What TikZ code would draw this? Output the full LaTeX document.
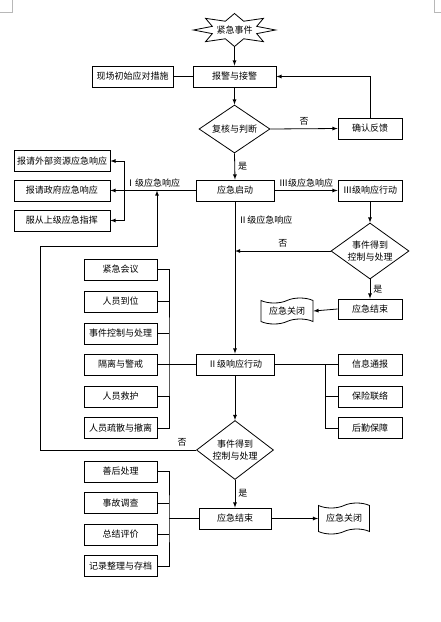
\documentclass[tikz,border=0pt]{standalone}
\usepackage{fontspec}
\setmainfont{Noto Sans CJK SC}
\usetikzlibrary{shapes.geometric}
\usetikzlibrary{shapes.symbols}
\usetikzlibrary{shadows}
\definecolor{shadowColor}{rgb}{0.55,0.55,0.55}
\definecolor{cropColor}{rgb}{0.72,0.72,0.72}

\begin{document}
\begin{tikzpicture}[x=1pt,y=-1pt,font=\fontsize{9}{12}\selectfont]

          \tikzstyle{stepBox} = [draw, rectangle, fill=white, minimum height=21pt, inner sep=0pt, line width=0.8pt, general shadow={shadow xshift=0.9pt, shadow yshift=-0.9pt, fill=shadowColor}];
          \tikzstyle{decisionNode} = [draw, diamond, aspect=1.4, fill=white, inner sep=0pt, line width=0.8pt, align=center];
          \tikzstyle{closeNode} = [draw, tape, tape bend top=in and out, tape bend bottom=in and out, tape bend height=5pt, fill=white, inner sep=0pt, line width=0.8pt];
          \tikzstyle{tagText} = [inner sep=3pt];

          \tikzstyle{normalEdge} = [line width=0.8pt];
          \tikzstyle{arrowEdge} = [line width=0.8pt, -latex];

          \useasboundingbox (0,0) rectangle (441,622);
          \draw[cropColor, line width=0.6pt] (12.3,0) -- (12.3,12.7) -- (0,12.7);
          \draw[cropColor, line width=0.6pt] (434.3,0) -- (434.3,12.7) -- (441,12.7);

          \node[inner sep=0pt, minimum width=82pt, minimum height=33pt] (event) at (234.5,30) {紧急事件};
          \draw[normalEdge, shift={(event.center)}] (0:41 and 16.5) \foreach \a in {45,90,...,360} { -- (\a-22.5:24 and 9.5) -- (\a:41 and 16.5)} -- cycle;

          \node[stepBox, minimum width=83pt] (alarm) at (234.5,76.5) {报警与接警};
          \node[stepBox, minimum width=81pt] (initial) at (132.5,76.5) {现场初始应对措施};
          \node[decisionNode, minimum width=71pt, minimum height=48pt] (verify) at (234.5,129) {复核与判断};
          \node[stepBox, minimum width=64pt] (feedback) at (370,128.5) {确认反馈};
          \node[stepBox, minimum width=78pt] (start) at (235,190.5) {应急启动};

          \node[stepBox, minimum width=96pt] (extRes) at (62,161) {报请外部资源应急响应};
          \node[stepBox, minimum width=96pt] (gov) at (62,190.5) {报请政府应急响应};
          \node[stepBox, minimum width=96pt] (superior) at (62,220.5) {服从上级应急指挥};

          \node[stepBox, minimum width=64pt] (lvThree) at (370,190.5) {Ⅲ级响应行动};
          \node[decisionNode, minimum width=78pt, minimum height=56pt] (checkA) at (370,251) {事件得到\\控制与处理};
          \node[stepBox, minimum width=64pt, minimum height=20pt] (endA) at (370,309) {应急结束};
          \node[closeNode, minimum width=52pt, minimum height=26pt] (closeA) at (287,311) {应急关闭};

          \node[stepBox, minimum width=78pt] (lvTwo) at (235,364.5) {Ⅱ级响应行动};
          \node[stepBox, minimum width=73pt] (meeting) at (120.5,269.5) {紧急会议};
          \node[stepBox, minimum width=73pt] (arrive) at (120.5,301.5) {人员到位};
          \node[stepBox, minimum width=73pt] (control) at (120.5,333.5) {事件控制与处理};
          \node[stepBox, minimum width=73pt] (isolate) at (120.5,364.5) {隔离与警戒};
          \node[stepBox, minimum width=73pt] (rescue) at (120.5,396.5) {人员救护};
          \node[stepBox, minimum width=73pt] (evacuate) at (120.5,428) {人员疏散与撤离};
          \node[stepBox, minimum width=64pt] (inform) at (370,364.5) {信息通报};
          \node[stepBox, minimum width=64pt] (insure) at (370,396.5) {保险联络};
          \node[stepBox, minimum width=64pt] (logistic) at (370,428) {后勤保障};

          \node[decisionNode, minimum width=77pt, minimum height=59pt] (checkB) at (235,450) {事件得到\\控制与处理};
          \node[stepBox, minimum width=72pt] (endB) at (235,518.5) {应急结束};
          \node[closeNode, minimum width=51pt, minimum height=31pt] (closeB) at (344,518.5) {应急关闭};
          \node[stepBox, minimum width=73pt] (aftercare) at (120.5,471.5) {善后处理};
          \node[stepBox, minimum width=73pt] (investigate) at (120.5,503) {事故调查};
          \node[stepBox, minimum width=73pt] (summary) at (120.5,534.5) {总结评价};
          \node[stepBox, minimum width=73pt] (archive) at (120.5,566) {记录整理与存档};

          \coordinate (jointI) at (124,190.5);
          \coordinate (backA) at (235,251);
          \coordinate (jointL) at (169,364.5);
          \coordinate (jointR) at (325,364.5);
          \coordinate (jointE) at (169,518.5);
          \coordinate (loopA) at (40,450);
          \coordinate (loopB) at (40,246);
          \coordinate (loopC) at (157,246);
          \coordinate (loopD) at (157,190.5);

          \draw[arrowEdge] (event.south) -- (alarm.north);
          \draw[normalEdge] (initial.east) -- (alarm.west);
          \draw[arrowEdge] (alarm.south) -- (verify.north);
          \draw[arrowEdge] (verify.east) -- node[tagText, above] {否} (feedback.west);
          \draw[arrowEdge] (feedback.north) |- (alarm.east);
          \draw[arrowEdge] (verify.south) -- node[tagText, right] {是} (start.north);

          \draw[arrowEdge] (start.west) -- node[tagText, above] {Ⅰ级应急响应} (gov.east);
          \draw[arrowEdge] (jointI) |- (extRes.east);
          \draw[arrowEdge] (jointI) |- (superior.east);

          \draw[arrowEdge] (start.east) -- node[tagText, above] {Ⅲ级应急响应} (lvThree.west);
          \draw[arrowEdge] (lvThree.south) -- (checkA.north);
          \draw[arrowEdge] (checkA.west) -- node[tagText, above] {否} (backA);
          \draw[arrowEdge] (checkA.south) -- node[tagText, right] {是} (endA.north);
          \draw[arrowEdge] (endA.west) -- (closeA.east);

          \draw[arrowEdge] (start.south) -- node[tagText, right, pos=0.12] {Ⅱ级应急响应} (lvTwo.north);
          \draw[normalEdge] (meeting.east) -| (jointL) |- (evacuate.east);
          \draw[normalEdge] (arrive.east) -- (arrive.east -| jointL);
          \draw[normalEdge] (control.east) -- (control.east -| jointL);
          \draw[normalEdge] (isolate.east) -- (lvTwo.west);
          \draw[normalEdge] (rescue.east) -- (rescue.east -| jointL);
          \draw[normalEdge] (lvTwo.east) -- (inform.west);
          \draw[normalEdge] (jointR) |- (insure.west);
          \draw[normalEdge] (jointR) |- (logistic.west);

          \draw[arrowEdge] (lvTwo.south) -- (checkB.north);
          \draw[arrowEdge] (checkB.west) -- node[tagText, above, pos=0.09] {否} (loopA) -- (loopB) -- (loopC) -- (loopD);
          \draw[arrowEdge] (checkB.south) -- node[tagText, right] {是} (endB.north);
          \draw[arrowEdge] (endB.east) -- (closeB.west);
          \draw[normalEdge] (aftercare.east) -| (jointE) |- (archive.east);
          \draw[normalEdge] (investigate.east) -- (investigate.east -| jointE);
          \draw[normalEdge] (summary.east) -- (summary.east -| jointE);
          \draw[normalEdge] (jointE) -- (endB.west);
        \end{tikzpicture}
\end{document}
